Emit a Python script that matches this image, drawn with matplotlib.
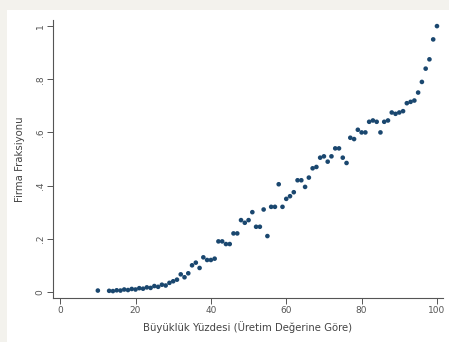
import matplotlib
matplotlib.use("Agg")
import matplotlib.pyplot as plt
from matplotlib.patches import Rectangle

plt.rcParams['font.family'] = ['DejaVu Sans']

# yuzdelik (buyukluk) ve firma fraksiyonu
yuzde = [10, 13, 14, 15, 16, 17, 18, 19, 20, 21, 22, 23, 24, 25, 26, 27, 28, 29, 30,
         31, 32, 33, 34, 35, 36, 37, 38, 39, 40, 41, 42, 43, 44, 45, 46, 47, 48, 49,
         50, 51, 52, 53, 54, 55, 56, 57, 58, 59, 60, 61, 62, 63, 64, 65, 66, 67, 68,
         69, 70, 71, 72, 73, 74, 75, 76, 77, 78, 79, 80, 81, 82, 83, 84, 85, 86, 87,
         88, 89, 90, 91, 92, 93, 94, 95, 96, 97, 98, 99, 100]
fraksiyon = [0.005, 0.004, 0.003, 0.006, 0.005, 0.009, 0.007, 0.011, 0.009, 0.014,
             0.012, 0.017, 0.015, 0.022, 0.019, 0.027, 0.024, 0.034, 0.040, 0.046,
             0.066, 0.055, 0.070, 0.100, 0.110, 0.090, 0.130, 0.120, 0.120, 0.125,
             0.190, 0.190, 0.180, 0.180, 0.220, 0.220, 0.270, 0.260, 0.270, 0.300,
             0.245, 0.245, 0.310, 0.210, 0.320, 0.320, 0.405, 0.320, 0.350, 0.360,
             0.375, 0.420, 0.420, 0.395, 0.430, 0.465, 0.470, 0.505, 0.510, 0.490,
             0.510, 0.540, 0.540, 0.505, 0.485, 0.580, 0.575, 0.610, 0.600, 0.600,
             0.640, 0.645, 0.640, 0.600, 0.640, 0.645, 0.675, 0.670, 0.675, 0.680,
             0.710, 0.715, 0.720, 0.750, 0.790, 0.840, 0.875, 0.950, 1.000]

xticks = [0, 20, 40, 60, 80, 100]
yticks = [0, 0.2, 0.4, 0.6, 0.8, 1.0]
ytick_labels = ["0", ".2", ".4", ".6", ".8", "1"]

fig = plt.figure(figsize=(4.49, 3.42), dpi=100, facecolor='#f3f2ed')
fig.patches.append(Rectangle((7 / 449, 0), 1, 1 - 10 / 342, transform=fig.transFigure,
                             facecolor='white', edgecolor='none', zorder=-10))

ax = fig.add_axes([53 / 449, 1 - 298 / 342, 390 / 449, 278 / 342])
ax.set_zorder(5)
ax.set_facecolor('white')
ax.scatter(yuzde, fraksiyon, s=11, color='#1a476f', edgecolors='none', zorder=3)

ax.set_xlim(-1.9, 101.6)
ax.set_ylim(-0.023, 1.023)
ax.set_xticks(xticks)
ax.set_xticklabels([str(t) for t in xticks])
ax.set_yticks(yticks)
ax.set_yticklabels(ytick_labels, rotation=90, va='center')

for s in ['top', 'right']:
    ax.spines[s].set_visible(False)
for s in ['left', 'bottom']:
    ax.spines[s].set_color('#555555')
    ax.spines[s].set_linewidth(0.8)
ax.tick_params(direction='out', length=4, width=0.7, color='#555555',
               labelsize=6.5, labelcolor='#555555', pad=2)

ax.set_xlabel("Büyüklük Yüzdesi (Üretim Değerine Göre)", fontsize=7.3,
              color='#444444', labelpad=4)
ax.set_ylabel("Firma Fraksiyonu", fontsize=7.3, color='#444444', labelpad=8)

fig.savefig("out.png", dpi=100, facecolor=fig.get_facecolor())
